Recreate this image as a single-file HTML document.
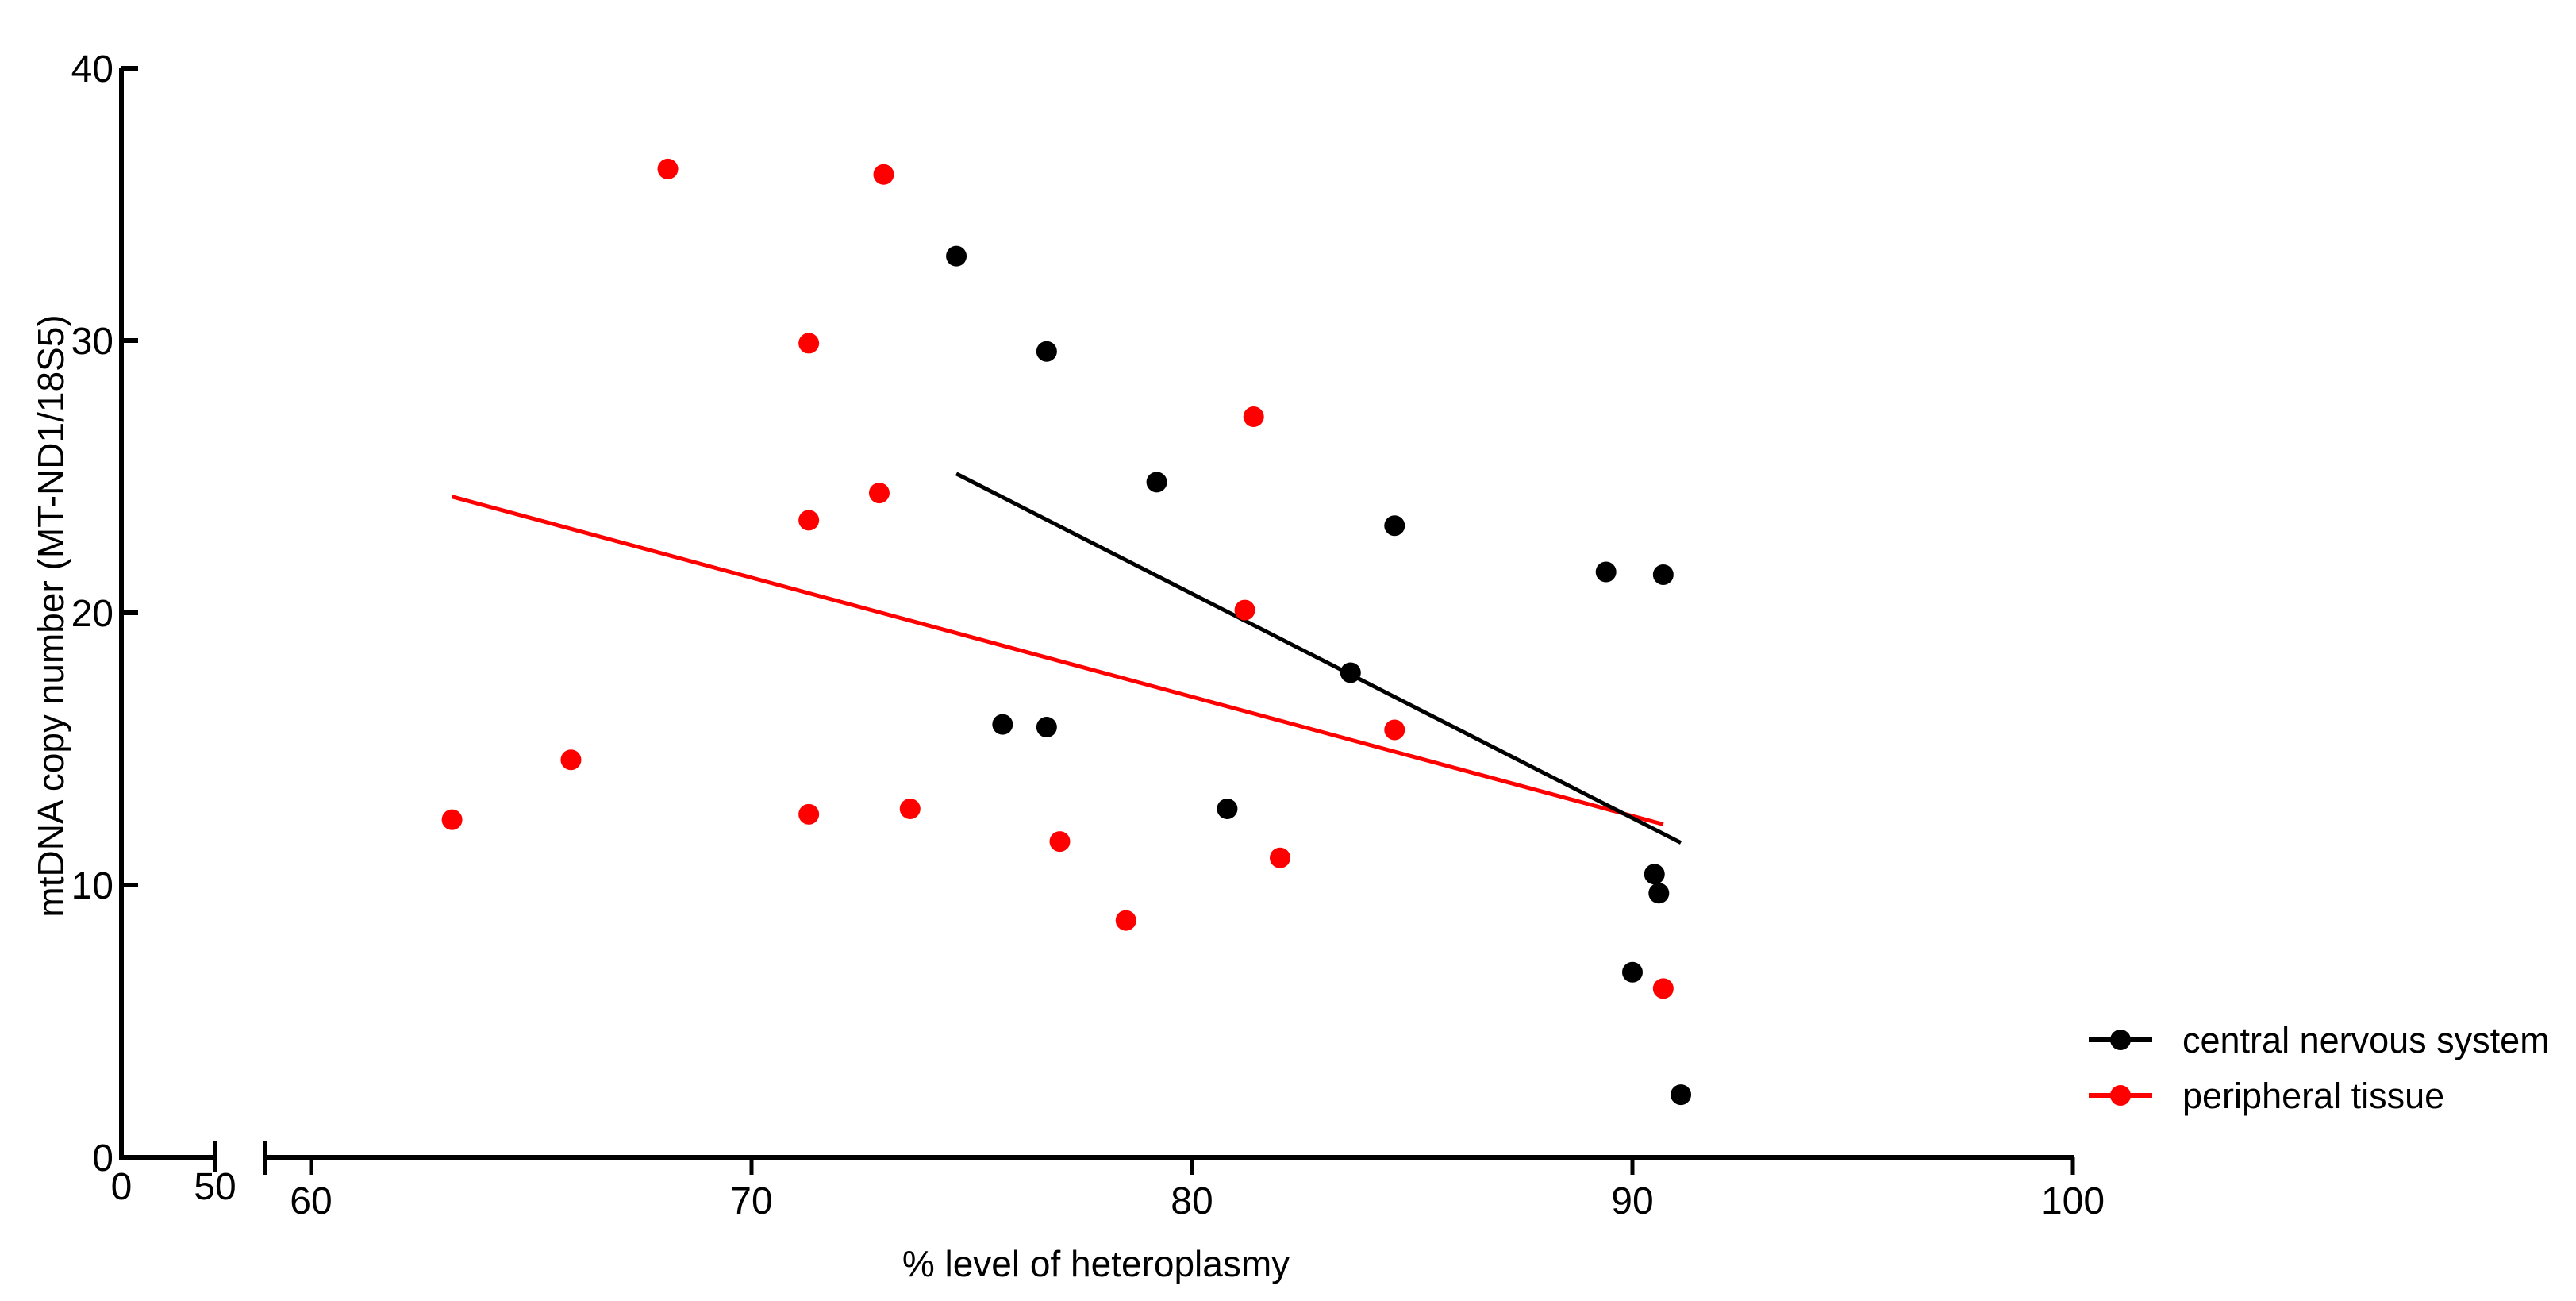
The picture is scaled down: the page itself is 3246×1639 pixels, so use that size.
<!DOCTYPE html>
<html><head><meta charset="utf-8"><style>
html,body{margin:0;padding:0;background:#fff;}
svg{display:block;font-family:"Liberation Sans",Arial,sans-serif;}
</style></head><body>
<svg id="chart" width="3246" height="1639" viewBox="0 0 3246 1639" xmlns="http://www.w3.org/2000/svg">
<g id="axes"></g>
<g id="fits"></g>
<g id="points"></g>
<g id="legend"></g>
<text x="0" y="0" transform="translate(80,776) rotate(-90)" font-size="46" text-anchor="middle">mtDNA copy number (MT-ND1/18S5)</text>
<text x="1381" y="1608" font-size="46" text-anchor="middle">% level of heteroplasmy</text>
</svg>
<script>
const cnsX = [74.65, 76.7, 79.2, 84.6, 89.4, 90.7, 75.7, 76.7, 83.6, 80.8, 90.5, 90.6, 90.0, 91.1];
const cnsY = [33.1, 29.6, 24.8, 23.2, 21.5, 21.4, 15.9, 15.8, 17.8, 12.8, 10.4, 9.7, 6.8, 2.3];
const perX = [68.1, 73.0, 71.3, 81.4, 72.9, 71.3, 81.2, 84.6, 65.9, 63.2, 71.3, 73.6, 77.0, 82.0, 78.5, 90.7];
const perY = [36.3, 36.1, 29.9, 27.2, 24.4, 23.4, 20.1, 15.7, 14.6, 12.4, 12.6, 12.8, 11.6, 11.0, 8.7, 6.2];
const yTicks = [0, 10, 20, 30, 40];
const xTicksLeft = [0, 50];
const xTicksRight = [60, 70, 80, 90, 100];
const seriesNames = ["central nervous system", "peripheral tissue"];

const NS = "http://www.w3.org/2000/svg";
function el(tag, attrs, parent, txt){const e=document.createElementNS(NS,tag);for(const k in attrs)e.setAttribute(k,attrs[k]);if(txt!==undefined)e.textContent=txt;parent.appendChild(e);return e;}
function xs(v){ return v<=50 ? 153 + (v/50)*118 : 2612 - (100-v)*55.5; }
function ys(v){ return 1458 - v*34.3; }

const axes=document.getElementById('axes');
let a;
a=el('line',{x1:153,y1:ys(40),x2:153,y2:1461,stroke:'#000','stroke-width':6},axes);


a=el('line',{x1:150,y1:1458,x2:xs(50),y2:1458,stroke:'#000','stroke-width':6},axes);


a=el('line',{x1:334,y1:1458,x2:2614,y2:1458,stroke:'#000','stroke-width':6},axes);


a=el('line',{x1:334,y1:1438,x2:334,y2:1480,stroke:'#000','stroke-width':5},axes);


yTicks.forEach(t=>{
  if(t>0){const l=el('line',{x1:153,y1:ys(t),x2:174,y2:ys(t),stroke:'#000','stroke-width':6},axes);
  
  }
  const tx=el('text',{x:143,y:ys(t)+17,'font-size':48,'text-anchor':'end'},axes,String(t));
  
  
});
xTicksLeft.forEach(t=>{
  if(t>0){const l=el('line',{x1:xs(t),y1:1438,x2:xs(t),y2:1476,stroke:'#000','stroke-width':5},axes);
  
  }
  const tx=el('text',{x:xs(t),y:1511,'font-size':48,'text-anchor':'middle'},axes,String(t));
  
  
});
xTicksRight.forEach(t=>{
  const l=el('line',{x1:xs(t),y1:1458,x2:xs(t),y2:1480,stroke:'#000','stroke-width':5},axes);
  
  
  const tx=el('text',{x:xs(t),y:1529,'font-size':48,'text-anchor':'middle'},axes,String(t));
  
  
});

function fit(X,Y){const n=X.length;let mx=0,my=0;for(let i=0;i<n;i++){mx+=X[i];my+=Y[i];}mx/=n;my/=n;let sxy=0,sxx=0;for(let i=0;i<n;i++){sxy+=(X[i]-mx)*(Y[i]-my);sxx+=(X[i]-mx)**2;}const b=sxy/sxx;return [b,my-b*mx];}
const fits=document.getElementById('fits');
[[perX,perY,'#ff0000','fit-line-peripheral'],[cnsX,cnsY,'#000','fit-line-cns']].forEach(([X,Y,c,n])=>{
  const [b,a0]=fit(X,Y);const x0=Math.min(...X),x1=Math.max(...X);
  const l=el('line',{x1:xs(x0),y1:ys(a0+b*x0),x2:xs(x1),y2:ys(a0+b*x1),stroke:c,'stroke-width':5},fits);
  
  
});
const pts=document.getElementById('points');
perX.forEach((v,i)=>{const c=el('circle',{cx:xs(v),cy:ys(perY[i]),r:13,fill:'#ff0000'},pts);
  
  });
cnsX.forEach((v,i)=>{const c=el('circle',{cx:xs(v),cy:ys(cnsY[i]),r:13,fill:'#000'},pts);
  
  });

const lg=document.getElementById('legend');
[['#000',1310],['#ff0000',1380]].forEach(([c,y],i)=>{
  const g=el('g',{},lg);
  
  
  el('line',{x1:2632,y1:y,x2:2712,y2:y,stroke:c,'stroke-width':6},g);
  el('circle',{cx:2672,cy:y,r:13,fill:c},g);
  el('text',{x:2750,y:y+16,'font-size':45},g,seriesNames[i]);
});
</script>
</body></html>
